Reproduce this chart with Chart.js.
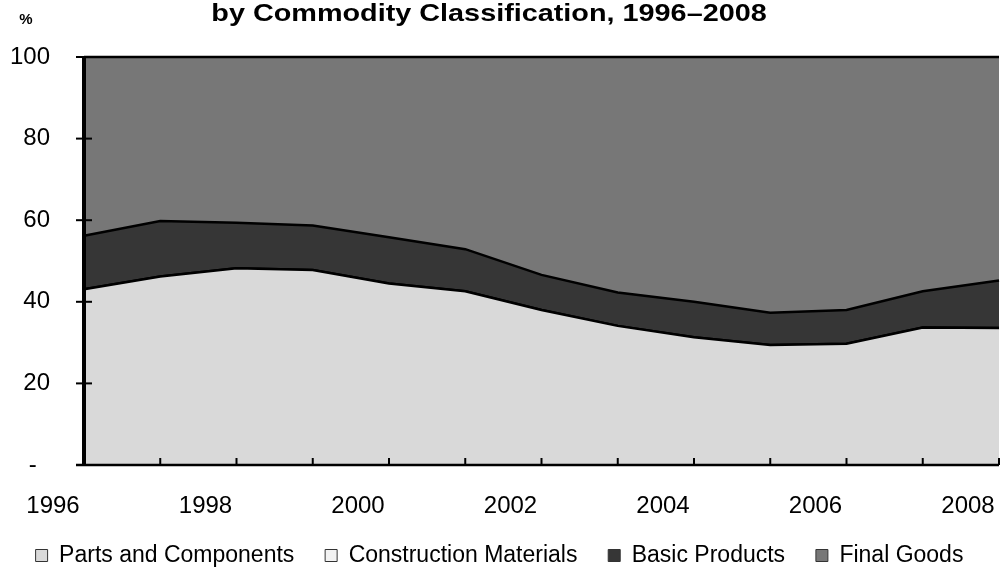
<!DOCTYPE html>
<html>
<head>
<meta charset="utf-8">
<script src="https://cdn.jsdelivr.net/npm/chart.js@4"></script>
<style>
  html, body { margin: 0; padding: 0; background: #fff; overflow: hidden; }
  #wrap { width: 1003px; height: 577px; }
</style>
</head>
<body>
<div id="wrap"><canvas id="share-chart"></canvas></div>
<script>
const years = ["1996", "1997", "1998", "1999", "2000", "2001", "2002", "2003", "2004", "2005", "2006", "2007", "2008"];
const xTickLabels = ["1996", "1998", "2000", "2002", "2004", "2006", "2008"];
const yTicks = [0, 20, 40, 60, 80, 100];

const partsComponents = [43.1, 46.2, 48.2, 47.8, 44.5, 42.6, 38.0, 34.1, 31.3, 29.4, 29.7, 33.7, 33.6];
const constructionMaterials = [0, 0, 0, 0, 0, 0, 0, 0, 0, 0, 0, 0, 0];
const basicProducts = [13.1, 13.6, 11.2, 10.9, 11.3, 10.3, 8.6, 8.2, 8.7, 7.9, 8.3, 8.9, 11.6];
const finalGoods = [43.8, 40.2, 40.6, 41.3, 44.2, 47.1, 53.4, 57.7, 60.0, 62.7, 62.0, 57.4, 54.8];

const chartTitle = "by Commodity Classification, 1996–2008";
const unitLabel = "%";

const FONT = "'Liberation Sans', Arial, sans-serif";

// title text (slightly wide, like the original) and the "%" unit
const headerText = {
  id: "headerText",
  afterDraw(chart) {
    const { ctx } = chart;
    ctx.save();
    ctx.fillStyle = "#000";
    ctx.textBaseline = "alphabetic";
    ctx.textAlign = "center";
    ctx.font = "bold 15px " + FONT;
    ctx.fillText(unitLabel, 26, 24);
    ctx.translate(489, 21);
    ctx.scale(1.2, 1);
    ctx.font = "bold 24px " + FONT;
    ctx.fillText(chartTitle, 0, 0);
    ctx.restore();
  },
};

// axis lines + tick marks drawn on top of the areas
const axisMarks = {
  id: "axisMarks",
  afterDatasetsDraw(chart) {
    const { ctx, chartArea, scales } = chart;
    const x = scales.x, y = scales.y;
    ctx.save();
    ctx.strokeStyle = "#000";
    ctx.lineWidth = 2;
    yTicks.forEach((v) => {
      const py = y.getPixelForValue(v);
      ctx.beginPath();
      ctx.moveTo(chartArea.left - 8, py);
      ctx.lineTo(chartArea.left + 8, py);
      ctx.stroke();
    });
    years.forEach((yr, i) => {
      const px = x.getPixelForValue(i);
      ctx.beginPath();
      ctx.moveTo(px, chartArea.bottom);
      ctx.lineTo(px, chartArea.bottom - 7);
      ctx.stroke();
    });
    ctx.lineWidth = 2.5;
    ctx.beginPath();
    ctx.moveTo(chartArea.left - 8, chartArea.bottom);
    ctx.lineTo(chartArea.right, chartArea.bottom);
    ctx.stroke();
    ctx.lineWidth = 4;
    ctx.beginPath();
    ctx.moveTo(chartArea.left, chartArea.top);
    ctx.lineTo(chartArea.left, chartArea.bottom + 1);
    ctx.stroke();
    ctx.restore();
  },
};

function area(label, data, color, fill) {
  return {
    label: label,
    data: data,
    backgroundColor: color,
    borderColor: "#000",
    borderWidth: 2.5,
    pointRadius: 0,
    tension: 0,
    fill: fill,
    clip: false,
  };
}

const chartData = {
  labels: years,
  datasets: [
    area("Parts and Components", partsComponents, "#d9d9d9", "origin"),
    area("Construction Materials", constructionMaterials, "#f2f2f2", "-1"),
    area("Basic Products", basicProducts, "#363636", "-1"),
    area("Final Goods", finalGoods, "#777777", "-1"),
  ],
};

const canvaEl = document.getElementById("share-chart");
const shareChart = new Chart(canvaEl, {
  type: "line",
  data: chartData,
  plugins: [axisMarks, headerText],
  options: {
    responsive: true,
    maintainAspectRatio: false,
    animation: false,
    layout: { padding: { left: 0, right: 4, top: 57, bottom: 0 } },
    plugins: {
      title: { display: false },
      legend: {
        position: "bottom",
        labels: {
          color: "#000",
          font: { family: FONT, size: 23 },
          boxWidth: 12,
          boxHeight: 12,
          padding: 18,
          generateLabels(chart) {
            const items = Chart.defaults.plugins.legend.labels.generateLabels(chart);
            // trailing spaces widen the gap between items
            return items.map((item, i) => ({
              ...item,
              text: i < items.length - 1 ? item.text + "  " : item.text,
              lineWidth: 1,
              strokeStyle: "#333",
            }));
          },
        },
      },
      tooltip: { enabled: false },
    },
    scales: {
      x: {
        type: "category",
        offset: false,
        afterFit(scale) {
          scale.height = 61;
          scale.paddingLeft = 0;
          scale.paddingRight = 0;
        },
        grid: { display: false },
        border: { display: false },
        ticks: {
          autoSkip: false,
          maxRotation: 0,
          color: "#000",
          font: { family: FONT, size: 24 },
          padding: 19,
          labelOffset: -31,
          callback(v) {
            const lbl = this.getLabelForValue(v);
            return xTickLabels.includes(lbl) ? lbl : "";
          },
        },
      },
      y: {
        stacked: true,
        min: 0,
        max: 100,
        afterFit(scale) {
          scale.width = 84;
          scale.paddingTop = 0;
          scale.paddingBottom = 0;
        },
        afterBuildTicks(scale) {
          scale.ticks = yTicks.map((v) => ({ value: v }));
        },
        grid: { display: false },
        border: { display: false },
        ticks: {
          color: "#000",
          font: { family: FONT, size: 24 },
          padding: 26,
          callback(v) {
            return v === 0 ? "-  " : v;
          },
        },
      },
    },
  },
});
</script>
</body>
</html>
